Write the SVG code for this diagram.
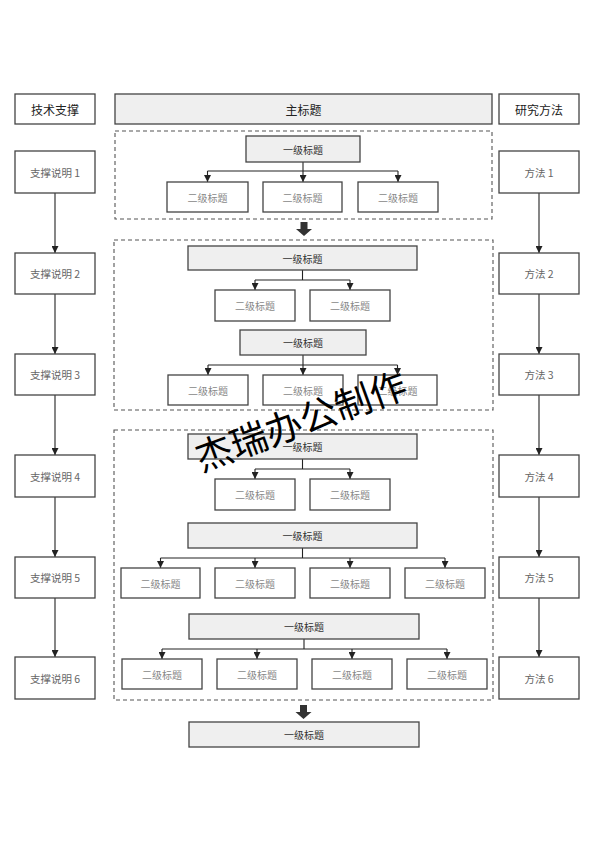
<svg xmlns="http://www.w3.org/2000/svg" width="594" height="841" viewBox="0 0 594 841">
<defs>
<marker id="ah" viewBox="0 0 10 10" refX="10" refY="5" markerWidth="7" markerHeight="7" markerUnits="userSpaceOnUse" orient="auto">
<path d="M0,0 L10,5 L0,10 z" fill="#222"/>
</marker>
</defs>
<style>
text{font-family:"Noto Sans CJK SC","Liberation Sans",sans-serif;text-anchor:middle;dominant-baseline:central}
.box{fill:#fff;stroke:#444;stroke-width:1.3}
.g{fill:#efefef;stroke:#444;stroke-width:1.3}
.dash{fill:none;stroke:#555;stroke-width:1.1;stroke-dasharray:4 3}
.hd{font-size:12px;fill:#222}
.side{font-size:10.5px;fill:#666}
.l1{font-size:10px;fill:#333}
.l2{font-size:10px;fill:#888}
.c{fill:none;stroke:#222;stroke-width:1.1}
.ca{fill:none;stroke:#222;stroke-width:1.1;marker-end:url(#ah)}
.blk{fill:#333}
.wm{font-size:37px;fill:#000}
</style>
<rect width="594" height="841" fill="#fff"/>

<g id="frames">
<rect class="dash" x="115" y="131" width="377" height="88"/>
<rect class="dash" x="114" y="240" width="379" height="170"/>
<rect class="dash" x="114" y="430" width="379" height="270"/>
</g>

<g id="connectors">
<line class="ca" x1="55" y1="193" x2="55" y2="253"/>
<line class="ca" x1="55" y1="294" x2="55" y2="354"/>
<line class="ca" x1="55" y1="395" x2="55" y2="455"/>
<line class="ca" x1="55" y1="497" x2="55" y2="557"/>
<line class="ca" x1="55" y1="598" x2="55" y2="657"/>
<line class="ca" x1="539" y1="193" x2="539" y2="253"/>
<line class="ca" x1="539" y1="294" x2="539" y2="354"/>
<line class="ca" x1="539" y1="395" x2="539" y2="455"/>
<line class="ca" x1="539" y1="497" x2="539" y2="557"/>
<line class="ca" x1="539" y1="598" x2="539" y2="657"/>
<!-- block 1 -->
<polyline class="c" points="303,162 303,171"/>
<line class="c" x1="207.5" y1="171" x2="398" y2="171"/>
<line class="ca" x1="207.5" y1="171" x2="207.5" y2="182"/>
<line class="ca" x1="303" y1="171" x2="303" y2="182"/>
<line class="ca" x1="398" y1="171" x2="398" y2="182"/>
<!-- block 2 -->
<line class="c" x1="302.5" y1="270" x2="302.5" y2="280"/>
<line class="c" x1="255" y1="280" x2="350" y2="280"/>
<line class="ca" x1="255" y1="280" x2="255" y2="290"/>
<line class="ca" x1="350" y1="280" x2="350" y2="290"/>
<line class="c" x1="303" y1="355" x2="303" y2="365"/>
<line class="c" x1="208" y1="365" x2="397.5" y2="365"/>
<line class="ca" x1="208" y1="365" x2="208" y2="375"/>
<line class="ca" x1="303" y1="365" x2="303" y2="375"/>
<line class="ca" x1="397.5" y1="365" x2="397.5" y2="375"/>
<!-- block 3 -->
<line class="c" x1="302.5" y1="459" x2="302.5" y2="469"/>
<line class="c" x1="255" y1="469" x2="350" y2="469"/>
<line class="ca" x1="255" y1="469" x2="255" y2="479"/>
<line class="ca" x1="350" y1="469" x2="350" y2="479"/>
<line class="c" x1="302.5" y1="548" x2="302.5" y2="558"/>
<line class="c" x1="160.5" y1="558" x2="445" y2="558"/>
<line class="ca" x1="160.5" y1="558" x2="160.5" y2="568"/>
<line class="ca" x1="255" y1="558" x2="255" y2="568"/>
<line class="ca" x1="350" y1="558" x2="350" y2="568"/>
<line class="ca" x1="445" y1="558" x2="445" y2="568"/>
<line class="c" x1="304" y1="639" x2="304" y2="649"/>
<line class="c" x1="162" y1="649" x2="447" y2="649"/>
<line class="ca" x1="162" y1="649" x2="162" y2="659"/>
<line class="ca" x1="257" y1="649" x2="257" y2="659"/>
<line class="ca" x1="352" y1="649" x2="352" y2="659"/>
<line class="ca" x1="447" y1="649" x2="447" y2="659"/>
<!-- block arrows -->
<path class="blk" d="M300.5,222 h7 v7 h4.5 l-8,7 l-8,-7 h4.5 z"/>
<path class="blk" d="M300,705 h7 v7 h4.5 l-8,7 l-8,-7 h4.5 z"/>
</g>

<g id="header-left"><rect class="box" x="15" y="94" width="80" height="30"/><text class="hd" x="55" y="109">技术支撑</text></g>
<g id="header-main"><rect class="g" x="115" y="94" width="377" height="30"/><text class="hd" x="303.5" y="109">主标题</text></g>
<g id="header-right"><rect class="box" x="499" y="94" width="80" height="30"/><text class="hd" x="539" y="109">研究方法</text></g>

<g id="s1"><rect class="box" x="15" y="151" width="80" height="42"/><text class="side" x="55" y="172">支撑说明 1</text></g>
<g id="s2"><rect class="box" x="15" y="253" width="80" height="41"/><text class="side" x="55" y="273.5">支撑说明 2</text></g>
<g id="s3"><rect class="box" x="15" y="354" width="80" height="41"/><text class="side" x="55" y="374.5">支撑说明 3</text></g>
<g id="s4"><rect class="box" x="15" y="455" width="80" height="42"/><text class="side" x="55" y="476">支撑说明 4</text></g>
<g id="s5"><rect class="box" x="15" y="557" width="80" height="41"/><text class="side" x="55" y="577.5">支撑说明 5</text></g>
<g id="s6"><rect class="box" x="15" y="657" width="80" height="42"/><text class="side" x="55" y="678">支撑说明 6</text></g>

<g id="m1"><rect class="box" x="499" y="151" width="80" height="42"/><text class="side" x="539" y="172">方法 1</text></g>
<g id="m2"><rect class="box" x="499" y="253" width="80" height="41"/><text class="side" x="539" y="273.5">方法 2</text></g>
<g id="m3"><rect class="box" x="499" y="354" width="80" height="41"/><text class="side" x="539" y="374.5">方法 3</text></g>
<g id="m4"><rect class="box" x="499" y="455" width="80" height="42"/><text class="side" x="539" y="476">方法 4</text></g>
<g id="m5"><rect class="box" x="499" y="557" width="80" height="41"/><text class="side" x="539" y="577.5">方法 5</text></g>
<g id="m6"><rect class="box" x="499" y="657" width="80" height="42"/><text class="side" x="539" y="678">方法 6</text></g>

<g id="b1-l1"><rect class="g" x="246" y="136" width="114" height="26"/><text class="l1" x="303" y="149">一级标题</text></g>
<g id="b1-a"><rect class="box" x="167" y="182" width="81" height="30"/><text class="l2" x="207.5" y="197">二级标题</text></g>
<g id="b1-b"><rect class="box" x="263" y="182" width="79" height="30"/><text class="l2" x="302.5" y="197">二级标题</text></g>
<g id="b1-c"><rect class="box" x="358" y="182" width="80" height="30"/><text class="l2" x="398" y="197">二级标题</text></g>

<g id="b2-l1"><rect class="g" x="188" y="246" width="229" height="24"/><text class="l1" x="302.5" y="258">一级标题</text></g>
<g id="b2-a"><rect class="box" x="215" y="290" width="80" height="31"/><text class="l2" x="255" y="305.5">二级标题</text></g>
<g id="b2-b"><rect class="box" x="310" y="290" width="80" height="31"/><text class="l2" x="350" y="305.5">二级标题</text></g>
<g id="b2-l1b"><rect class="g" x="240" y="330" width="126" height="25"/><text class="l1" x="303" y="342.5">一级标题</text></g>
<g id="b2-c"><rect class="box" x="168" y="375" width="80" height="30"/><text class="l2" x="208" y="390">二级标题</text></g>
<g id="b2-d"><rect class="box" x="263" y="375" width="80" height="30"/><text class="l2" x="303" y="390">二级标题</text></g>
<g id="b2-e"><rect class="box" x="358" y="375" width="79" height="30"/><text class="l2" x="397.5" y="390">二级标题</text></g>

<g id="b3-l1"><rect class="g" x="188" y="434" width="229" height="25"/><text class="l1" x="302.5" y="446.5">一级标题</text></g>
<g id="b3-a"><rect class="box" x="215" y="479" width="80" height="31"/><text class="l2" x="255" y="494.5">二级标题</text></g>
<g id="b3-b"><rect class="box" x="310" y="479" width="80" height="31"/><text class="l2" x="350" y="494.5">二级标题</text></g>
<g id="b3-l1b"><rect class="g" x="188" y="523" width="229" height="25"/><text class="l1" x="302.5" y="535.5">一级标题</text></g>
<g id="b3-c"><rect class="box" x="121" y="568" width="79" height="30"/><text class="l2" x="160.5" y="583">二级标题</text></g>
<g id="b3-d"><rect class="box" x="215" y="568" width="80" height="30"/><text class="l2" x="255" y="583">二级标题</text></g>
<g id="b3-e"><rect class="box" x="310" y="568" width="80" height="30"/><text class="l2" x="350" y="583">二级标题</text></g>
<g id="b3-f"><rect class="box" x="405" y="568" width="80" height="30"/><text class="l2" x="445" y="583">二级标题</text></g>
<g id="b3-l1c"><rect class="g" x="189" y="614" width="230" height="25"/><text class="l1" x="304" y="626.5">一级标题</text></g>
<g id="b3-g"><rect class="box" x="122" y="659" width="80" height="30"/><text class="l2" x="162" y="674">二级标题</text></g>
<g id="b3-h"><rect class="box" x="217" y="659" width="80" height="30"/><text class="l2" x="257" y="674">二级标题</text></g>
<g id="b3-i"><rect class="box" x="312" y="659" width="80" height="30"/><text class="l2" x="352" y="674">二级标题</text></g>
<g id="b3-j"><rect class="box" x="407" y="659" width="80" height="30"/><text class="l2" x="447" y="674">二级标题</text></g>

<g id="final"><rect class="g" x="189" y="722" width="230" height="25"/><text class="l1" x="304" y="734.5">一级标题</text></g>

<g id="watermark"><text class="wm" x="300" y="419" transform="rotate(-20 300 419)">杰瑞办公制作</text></g>
</svg>
